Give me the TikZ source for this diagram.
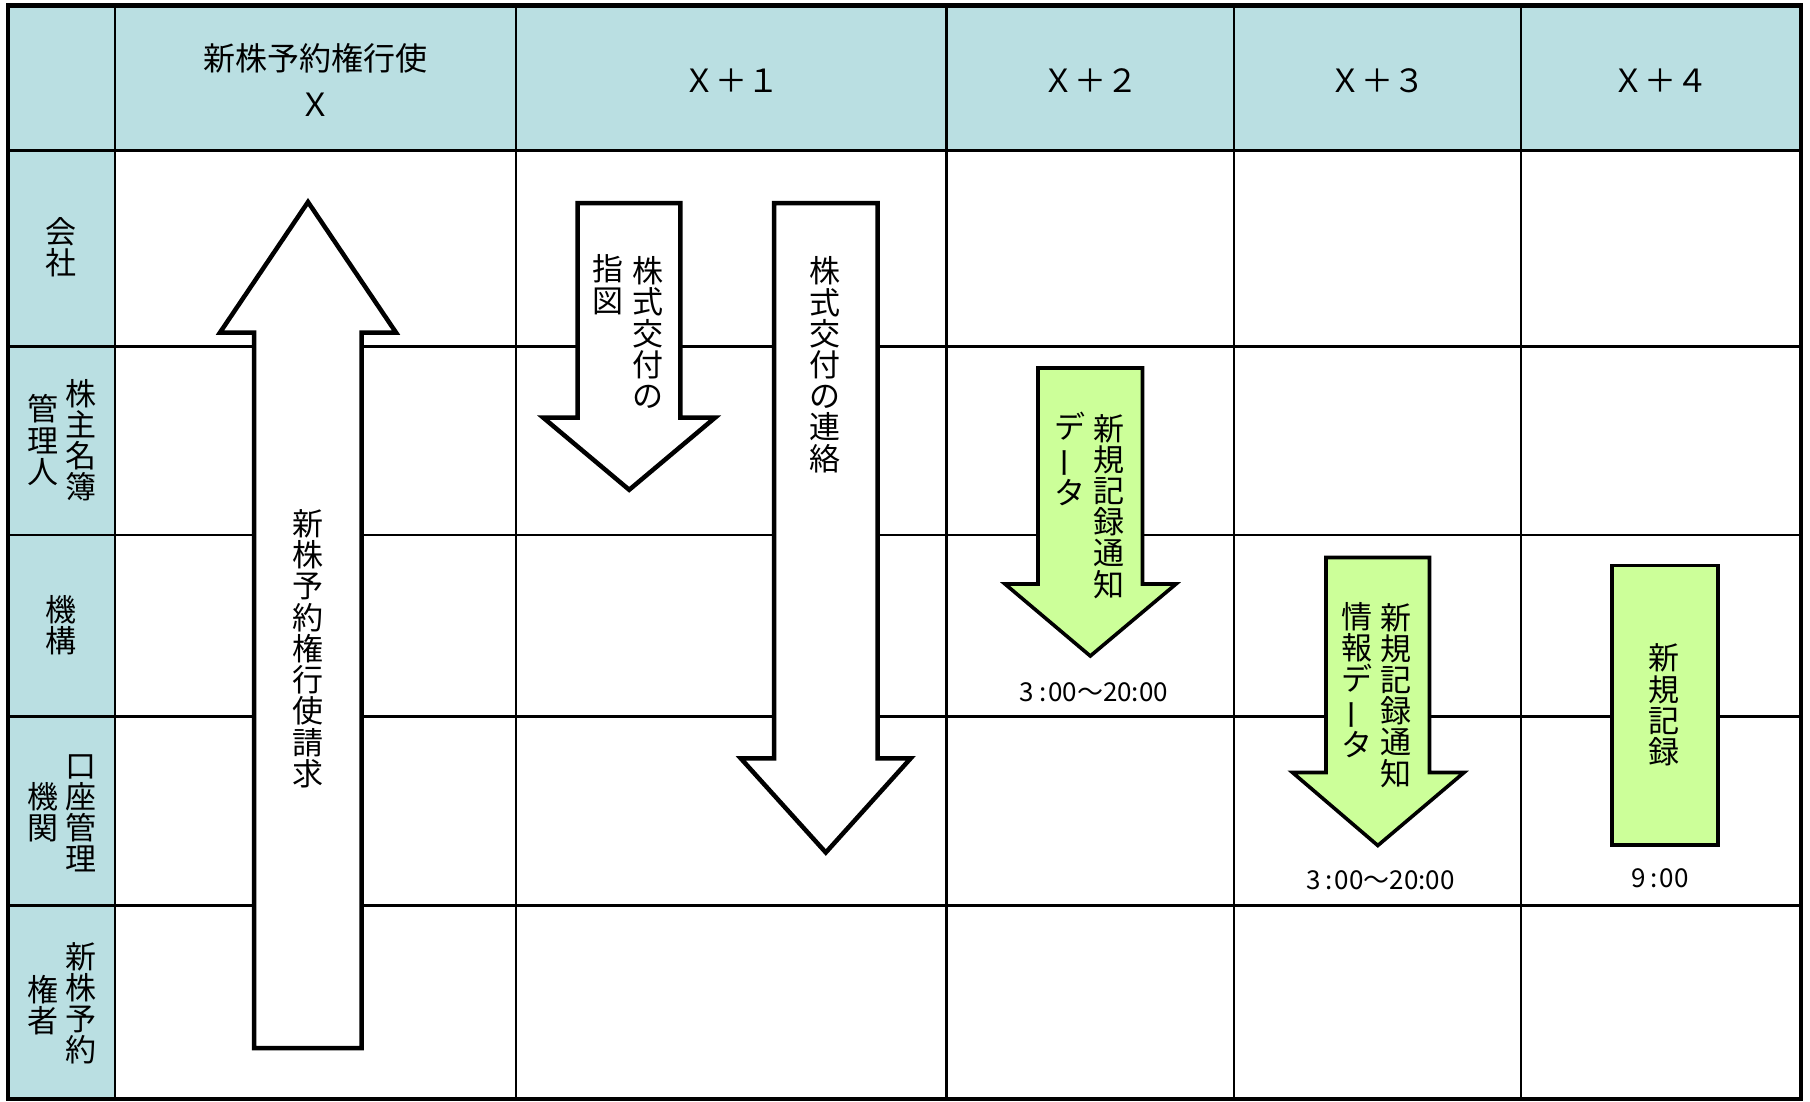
\documentclass[tikz,border=0pt]{standalone}
\usepackage{fontspec}
\setmainfont{Noto Sans CJK JP}
\definecolor{hdrblue}{RGB}{186,223,226}
\definecolor{lightgreen}{RGB}{204,255,153}
\tikzset{
  gridline/.style={line width=2.5pt},
  border/.style={line width=4.6pt},
  whitearrow/.style={draw, line width=4.5pt, fill=white, line join=miter},
  greenarrow/.style={draw, line width=3.6pt, fill=lightgreen, line join=miter},
  vtxt/.style={font=\fontsize{31}{31.2}\selectfont, align=center, inner sep=0pt},
  hdrtxt/.style={font=\fontsize{32}{40}\selectfont, align=center, inner sep=0pt},
  timetxt/.style={font=\fontsize{26}{30}\selectfont, inner sep=0pt},
}
\newcommand{\vbarmark}{\rotatebox[origin=c]{90}{ー}}
\begin{document}
\begin{tikzpicture}[x=1pt,y=-1pt]
\useasboundingbox (0,0) rectangle (1810,1101);
% shaded header row and column
\fill[hdrblue] (8,5.3) rectangle (1800.8,150.7);
\fill[hdrblue] (8,150.7) rectangle (115,1098.8);
% grid
\foreach \yy in {150.7,346.5,535,716.7,905.7} \draw[gridline] (8,\yy) -- (1800.8,\yy);
\foreach \xx in {115,516,946.5,1234,1521} \draw[gridline] (\xx,5.3) -- (\xx,1098.8);
\draw[border] (8,5.3) rectangle (1800.8,1098.8);
% header texts
\node[hdrtxt] (h1a) at (315.5,58.3) {新株予約権行使};
\node[hdrtxt] (h1b) at (315.5,105) {Ｘ};
\node[hdrtxt] (h2) at (731,81) {Ｘ＋１};
\node[hdrtxt] (h3) at (1090,81) {Ｘ＋２};
\node[hdrtxt] (h4) at (1377.5,81) {Ｘ＋３};
\node[hdrtxt] (h5) at (1660.5,81) {Ｘ＋４};
% row labels
\node[vtxt] (r1) at (61.2,247.5) {会\\社};
\node[vtxt] (r2a) at (81.3,440) {株\\主\\名\\簿};
\node[vtxt] (r2b) at (43,440) {管\\理\\人};
\node[vtxt] (r3) at (61.2,625) {機\\構};
\node[vtxt] (r4a) at (81.3,813.3) {口\\座\\管\\理};
\node[vtxt] (r4b) at (43,812.5) {機\\関};
\node[vtxt] (r5a) at (81.3,1003.3) {新\\株\\予\\約};
\node[vtxt] (r5b) at (43,1005) {権\\者};
% big up arrow
\draw[whitearrow] (308,202) -- (396,332.5) -- (361.5,332.5) -- (361.5,1048)
  -- (254,1048) -- (254,332.5) -- (220,332.5) -- cycle;
\node[vtxt] (t1) at (308,648.7) {新\\株\\予\\約\\権\\行\\使\\請\\求};
% arrow A
\draw[whitearrow] (577.7,203) -- (680.3,203) -- (680.3,417.7) -- (715,417.7)
  -- (629.2,489.8) -- (543.3,417.7) -- (577.7,417.7) -- cycle;
\node[vtxt] (tA1) at (648,332.5) {株\\式\\交\\付\\の};
\node[vtxt] (tA2) at (608.3,284.7) {指\\図};
% arrow B
\draw[whitearrow] (774,203) -- (877.7,203) -- (877.7,758.3) -- (910.7,758.3)
  -- (825.8,852.5) -- (740.7,758.3) -- (774,758.3) -- cycle;
\node[vtxt] (tB) at (824.7,364.7) {株\\式\\交\\付\\の\\連\\絡};
% arrow C (green)
\draw[greenarrow] (1038,368) -- (1142.5,368) -- (1142.5,584) -- (1176,584)
  -- (1090.3,656) -- (1005,584) -- (1038,584) -- cycle;
\node[vtxt] (tC1) at (1109,506.3) {新\\規\\記\\録\\通\\知};
\node[vtxt] (tC2) at (1069.8,458.7) {デ\\{\vbarmark}\\タ};
\node[timetxt] (tmC) at (1093.8,692) {3\hspace{5pt}:\hspace{2pt}00〜20:00};
% arrow D (green)
\draw[greenarrow] (1326,557.5) -- (1429.5,557.5) -- (1429.5,772.5) -- (1464,772.5)
  -- (1377.8,845.5) -- (1292.5,772.5) -- (1326,772.5) -- cycle;
\node[vtxt] (tD1) at (1395.8,695.3) {新\\規\\記\\録\\通\\知};
\node[vtxt] (tD2) at (1356.9,680.2) {情\\報\\デ\\{\vbarmark}\\タ};
\node[timetxt] (tmD) at (1380.5,880.5) {3\hspace{5pt}:\hspace{2pt}00〜20:00};
% green box
\draw[greenarrow] (1612,565.5) rectangle (1718,845);
\node[vtxt] (tE) at (1664,705) {新\\規\\記\\録};
\node[timetxt] (tmE) at (1660,878) {9\hspace{5pt}:\hspace{2pt}00};
\end{tikzpicture}
\end{document}
